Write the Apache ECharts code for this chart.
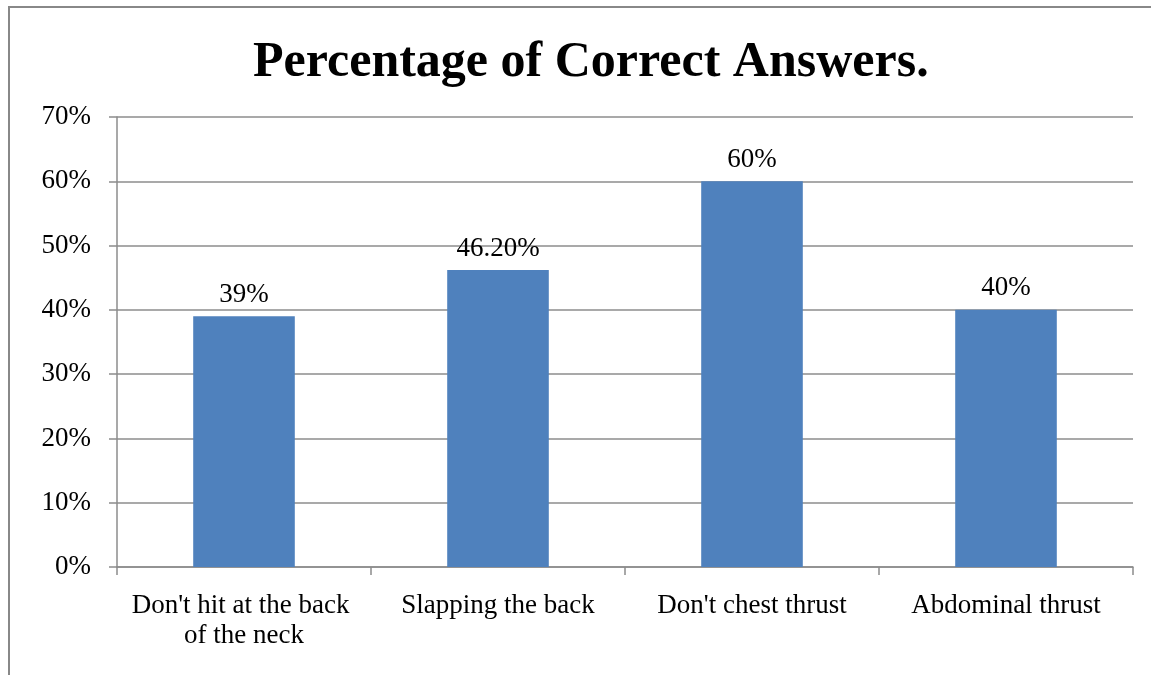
<!DOCTYPE html>
<html>
<head>
<meta charset="utf-8">
<script src="https://cdn.jsdelivr.net/npm/echarts@6/dist/echarts.min.js"></script>
<style>
  html, body { margin: 0; padding: 0; background: #fff; }
  #chart { width: 1151px; height: 675px; }
</style>
</head>
<body>
<div id="chart"></div>
<script>
// data
var categories = ["Don't hit at the back of the neck", 'Slapping the back', "Don't chest thrust", 'Abdominal thrust'];
var values = [0.39, 0.462, 0.60, 0.40];
var valueLabels = ['39%', '46.20%', '60%', '40%'];

var serif = "'Liberation Serif', 'DejaVu Serif', serif";
var gridColor = '#8c8c8c';

var chart = echarts.init(document.getElementById('chart'));
chart.setOption({
  animation: false,
  title: {
    text: 'Percentage of Correct Answers.',
    left: 248,
    top: 33,
    textStyle: { fontFamily: serif, fontWeight: 'bold', fontSize: 50, color: '#000' }
  },
  graphic: [{
    type: 'rect',
    shape: { x: 9, y: 7, width: 1300, height: 800 },
    style: { fill: 'none', stroke: '#888', lineWidth: 2 }
  }],
  grid: { left: 117, right: 18, top: 117, bottom: 108 },
  xAxis: {
    type: 'category',
    data: categories,
    axisLine: { lineStyle: { color: gridColor, width: 1.5 } },
    axisTick: { show: true, length: 8, lineStyle: { color: gridColor, width: 1.5 } },
    axisLabel: {
      interval: 0,
      margin: 24,
      width: 235,
      overflow: 'break',
      lineHeight: 30,
      fontFamily: serif, fontSize: 27, color: '#000'
    }
  },
  yAxis: {
    type: 'value',
    min: 0, max: 0.7, interval: 0.1,
    axisLine: { show: true, lineStyle: { color: gridColor, width: 1.5 } },
    axisTick: { show: true, length: 8, lineStyle: { color: gridColor, width: 1.5 } },
    splitLine: { lineStyle: { color: gridColor, width: 1.5 } },
    axisLabel: {
      margin: 26,
      fontFamily: serif, fontSize: 27, color: '#000',
      formatter: function (v) { return Math.round(v * 100) + '%'; }
    }
  },
  series: [{
    type: 'bar',
    data: values,
    barWidth: '40%',
    itemStyle: { color: '#4f81bd' },
    label: {
      show: true,
      position: 'top',
      distance: 8,
      fontFamily: serif, fontSize: 27, color: '#000',
      formatter: function (p) { return valueLabels[p.dataIndex]; }
    }
  }]
});
</script>
</body>
</html>
